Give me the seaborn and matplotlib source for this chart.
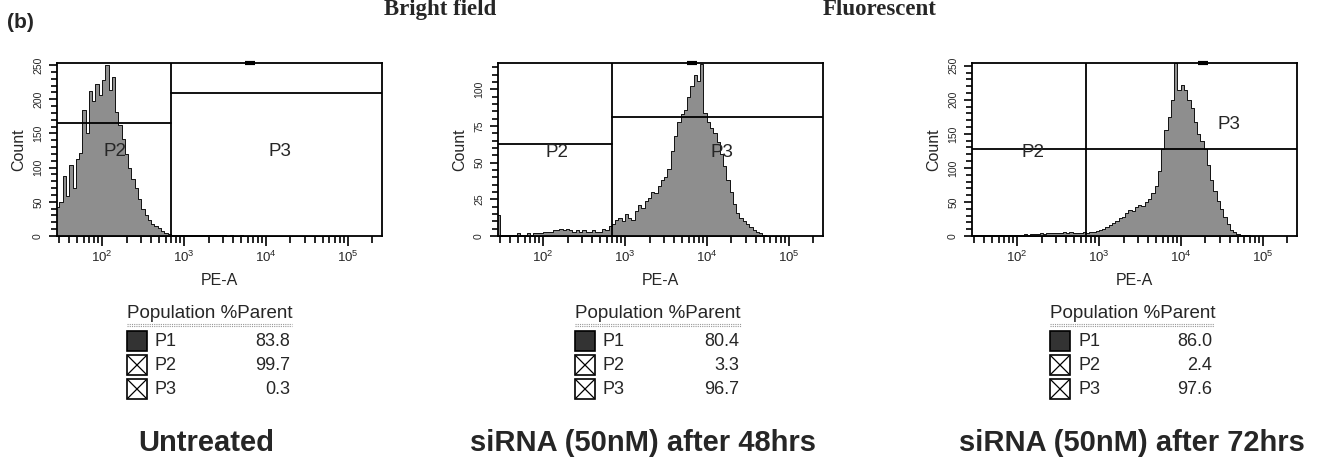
import numpy as np
import pandas as pd
import matplotlib
matplotlib.use("Agg")
import matplotlib.pyplot as plt
import seaborn as sns
from matplotlib.patches import Rectangle
from matplotlib.lines import Line2D
from matplotlib.ticker import MultipleLocator, FixedLocator

W, H = 1327, 461

# histogram channels on log10(PE-A), 0.04 decade wide
bin_edges = np.round(np.arange(1.44, 4.8801, 0.04), 2)
bin_centers = (bin_edges[:-1] + bin_edges[1:]) / 2

counts_untreated = [42, 50, 88, 58, 104, 70, 112, 122, 184, 150,
                    212, 198, 222, 206, 228, 250, 214, 232, 182, 162,
                    142, 120, 100, 84, 70, 54, 40, 30, 23, 17,
                    14, 11, 7, 5, 3, 2, 1, 1, 1, 1,
                    1, 1, 1, 1, 1, 1, 1, 1, 1, 1,
                    1, 1, 0, 1, 0, 0, 1, 0, 0, 0,
                    0, 0, 0, 0, 0, 0, 0, 0, 0, 0,
                    0, 0, 0, 0, 0, 0, 0, 0, 0, 0,
                    0, 0, 0, 0, 0, 0]
counts_48h = [14, 1, 1, 1, 1, 1, 2, 1, 1, 2,
              1, 2, 2, 2, 3, 3, 3, 4, 4, 5,
              4, 5, 4, 3, 4, 3, 4, 3, 3, 4,
              3, 3, 5, 4, 7, 8, 11, 12, 10, 15,
              12, 11, 17, 21, 19, 24, 26, 30, 29, 34,
              38, 40, 46, 58, 68, 78, 83, 86, 95, 102,
              110, 106, 117, 84, 78, 74, 70, 64, 56, 48,
              38, 30, 22, 16, 12, 10, 8, 6, 4, 3,
              2, 1, 0, 0, 0, 0]
counts_72h = [2, 1, 1, 1, 1, 1, 1, 1, 1, 1,
              2, 1, 2, 2, 2, 2, 3, 2, 3, 3,
              3, 4, 3, 4, 4, 4, 5, 4, 6, 5,
              6, 5, 4, 5, 6, 5, 6, 6, 8, 9,
              11, 13, 16, 19, 22, 26, 28, 34, 38, 37,
              42, 46, 44, 50, 55, 63, 74, 95, 128, 155,
              175, 200, 254, 214, 222, 214, 200, 188, 168, 150,
              140, 128, 104, 82, 66, 52, 40, 28, 17, 9,
              6, 3, 2, 1, 1, 0]

panel_titles = ["Untreated", "siRNA (50nM) after 48hrs", "siRNA (50nM) after 72hrs"]
gate_pe = [700, 700, 700]
p2_level = [165, 63, 127]
p3_level = [209, 81, 127]
y_top = [253, 118, 254]
y_major = [50, 25, 50]
y_minor = [10, 5, 10]

populations = ["P1", "P2", "P3"]
pct_untreated = [83.8, 99.7, 0.3]
pct_48h = [80.4, 3.3, 96.7]
pct_72h = [86.0, 2.4, 97.6]

all_counts = [counts_untreated, counts_48h, counts_72h]
all_pct = [pct_untreated, pct_48h, pct_72h]

# layout in pixels
ax_left = [57, 498, 972]
ax_w, ax_top, ax_bot = 325, 63, 236
p2_lab = [(2.16, 123), (2.17, 57), (2.2, 123)]
p3_lab = [(4.17, 123), (4.18, 57), (4.59, 163)]
top_dash = [3.81, 3.82, 4.27]
tab_x = [127, 575, 1050]
tab_r = [292, 741, 1214]
title_x = [206, 643, 1132]

sns.set_theme(style="white")
plt.rcParams["font.family"] = ["Liberation Sans", "DejaVu Sans"]
plt.rcParams["mathtext.default"] = "regular"

fig = plt.figure(figsize=(W / 100, H / 100), dpi=100)


def fx(x):
    return x / W


def fy(y):
    return 1 - y / H


xlo, xhi = 1.45, 5.42
minor_pos = [np.log10(k * 10.0 ** n) for n in range(1, 6) for k in range(2, 10)]
minor_pos = [m for m in minor_pos if xlo < m < xhi]

for i in range(3):
    ax = fig.add_axes([fx(ax_left[i]), fy(ax_bot), ax_w / W, (ax_bot - ax_top) / H])
    df = pd.DataFrame({"pe": bin_centers, "n": all_counts[i]})
    # bins as a plain list (seaborn compares bins to "auto" when weights are used)
    sns.histplot(data=df, x="pe", weights="n", bins=list(bin_edges), element="step",
                 fill=True, color="#8e8e8e", edgecolor="#111111", linewidth=0.7,
                 alpha=1, ax=ax)
    ax.set_xlim(xlo, xhi)
    ax.set_ylim(0, y_top[i])

    g = np.log10(gate_pe[i])
    ax.axvline(g, color="black", lw=1.3)
    ax.plot([xlo, g], [p2_level[i], p2_level[i]], color="black", lw=1.3)
    ax.plot([g, xhi], [p3_level[i], p3_level[i]], color="black", lw=1.3)
    ax.plot([top_dash[i] - 0.06, top_dash[i] + 0.06], [y_top[i], y_top[i]],
            color="black", lw=3, clip_on=False, solid_capstyle="butt")
    ax.text(*p2_lab[i], "P2", fontsize=13.5, ha="center", va="center")
    ax.text(*p3_lab[i], "P3", fontsize=13.5, ha="center", va="center")

    for s in ax.spines.values():
        s.set_color("black")
        s.set_linewidth(1.3)

    ax.xaxis.set_major_locator(FixedLocator([2, 3, 4, 5]))
    ax.set_xticklabels([f"$10^{{{k}}}$" for k in [2, 3, 4, 5]])
    ax.xaxis.set_minor_locator(FixedLocator(minor_pos))
    ax.yaxis.set_major_locator(MultipleLocator(y_major[i]))
    ax.yaxis.set_minor_locator(MultipleLocator(y_minor[i]))
    ax.tick_params(axis="both", which="both", direction="out", color="black",
                   width=1.2, bottom=True, left=True)
    ax.tick_params(axis="x", which="major", length=7, labelsize=9.5, pad=3)
    ax.tick_params(axis="x", which="minor", length=5)
    ax.tick_params(axis="y", which="major", length=6, labelsize=7.5, pad=4)
    ax.tick_params(axis="y", which="minor", length=4)
    for lab in ax.get_yticklabels():
        lab.set_rotation(90)
        lab.set_va("center")
    ax.set_xlabel("PE-A", fontsize=11.5, labelpad=6)
    ax.set_ylabel("Count", fontsize=11.5, labelpad=5)

    # population table
    x0, xr = tab_x[i], tab_r[i]
    fig.text(fx(x0), fy(314), "Population %Parent", fontsize=13.5, ha="left", va="center")
    for dy in (0, 2):
        fig.add_artist(Line2D([fx(x0), fx(xr)], [fy(324 + dy), fy(324 + dy)],
                              color="#9a9a9a", lw=0.8, ls=(0, (1, 1))))
    for r, (name, val) in enumerate(zip(populations, all_pct[i])):
        yc = 341 + 24 * r
        face = "#333333" if r == 0 else "white"
        fig.add_artist(Rectangle((fx(x0), fy(yc + 10)), 20 / W, 20 / H,
                                 facecolor=face, edgecolor="black", lw=1.2))
        if r > 0:
            fig.add_artist(Line2D([fx(x0 + 1), fx(x0 + 19)], [fy(yc - 9), fy(yc + 9)],
                                  color="black", lw=0.9))
            fig.add_artist(Line2D([fx(x0 + 1), fx(x0 + 19)], [fy(yc + 9), fy(yc - 9)],
                                  color="black", lw=0.9))
        fig.text(fx(x0 + 28), fy(yc), name, fontsize=13, ha="left", va="center")
        fig.text(fx(xr - 2), fy(yc), f"{val:.1f}", fontsize=13, ha="right", va="center")

    fig.text(fx(title_x[i]), fy(443), panel_titles[i], fontsize=21, fontweight="bold",
             ha="center", va="center")

fig.text(fx(7), fy(22), "(b)", fontsize=15, fontweight="bold", va="center")
fig.text(fx(440), fy(15), "Bright field", fontsize=16.5, fontweight="bold",
         family="Liberation Serif", ha="center", va="baseline")
fig.text(fx(880), fy(15), "Fluorescent", fontsize=16.5, fontweight="bold",
         family="Liberation Serif", ha="center", va="baseline")

fig.savefig("out.png", dpi=100)
